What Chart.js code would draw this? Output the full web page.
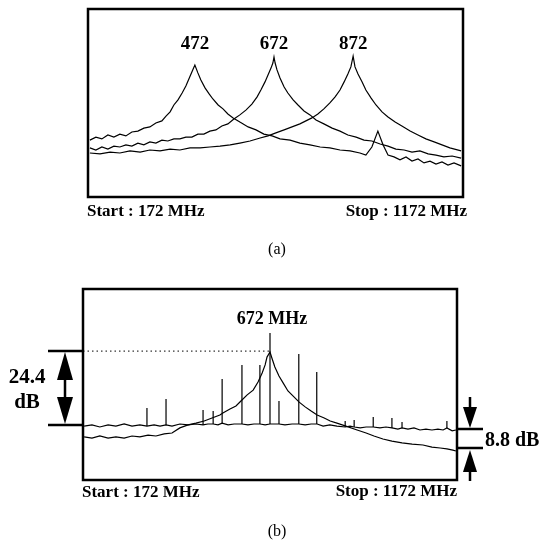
<!DOCTYPE html>
<html>
<head>
<meta charset="utf-8">
<script src="https://cdn.jsdelivr.net/npm/chart.js@4/dist/chart.umd.min.js"></script>
<style>
  html, body { margin: 0; padding: 0; background: #fff; }
  .panel { position: absolute; left: 0; width: 545px; }
  #panelA { top: 0; height: 270px; }
  #panelB { top: 270px; height: 274px; }
</style>
</head>
<body>
<div class="panel" id="panelA"><canvas id="graficaA" width="545" height="270"></canvas></div>
<div class="panel" id="panelB"><canvas id="graficaB" width="545" height="274"></canvas></div>
<script>
// ---- panel (a): three resonances, frequency in MHz, level in dB ----
const freq472 = [177, 193, 209, 225, 241, 257, 273, 289, 305, 321, 337, 353, 369, 380, 391, 401, 412, 423, 433, 441, 449, 457,
  465, 473, 484, 495, 505, 519, 532, 545, 559, 577, 599, 620, 641, 663, 684, 711, 737, 764, 791, 817, 844, 871, 897, 913,
  929, 945, 959, 972, 988, 1004, 1020, 1036, 1052, 1068, 1084, 1100, 1116, 1132, 1148, 1167];
const level472 = [-43.7, -42.7, -43.3, -42.0, -42.7, -41.7, -42.3, -41.0, -40.7, -39.7, -39.3, -38.0, -37.3, -35.7, -34.3, -32.0, -30.3, -28.0, -25.7, -23.3, -21.0, -18.7,
  -21.3, -23.7, -26.3, -28.3, -30.0, -32.0, -33.3, -35.0, -36.3, -37.7, -39.3, -40.3, -41.7, -42.3, -43.3, -43.7, -44.7, -45.3, -46.0, -46.3, -47.0, -47.3, -48.0, -48.7,
  -46.0, -40.7, -45.3, -48.7, -49.3, -50.3, -49.3, -50.7, -50.0, -51.3, -50.7, -51.7, -51.0, -52.0, -51.3, -52.3];

const freq672 = [177, 193, 209, 225, 241, 257, 273, 289, 305, 321, 337, 353, 369, 385, 401, 417, 433, 449, 465, 481, 497, 513,
  529, 545, 561, 577, 593, 609, 623, 633, 644, 652, 660, 665, 668, 671, 676, 684, 695, 705, 719, 732, 748, 764, 780, 801,
  823, 844, 865, 887, 908, 929, 951, 972, 993, 1015, 1036, 1057, 1079, 1100, 1121, 1143, 1167];
const level672 = [-46.3, -47.0, -46.0, -46.7, -45.7, -46.0, -45.3, -45.7, -44.7, -45.3, -44.3, -44.7, -43.7, -44.0, -43.3, -43.3, -42.7, -42.7, -41.7, -41.7, -40.7, -40.3,
  -39.0, -38.3, -36.7, -35.3, -33.7, -31.7, -29.3, -27.0, -24.3, -22.0, -19.7, -18.0, -16.0, -18.0, -20.3, -23.0, -26.0, -28.0, -30.3, -32.0, -34.0, -35.3, -37.0, -38.3,
  -39.7, -40.7, -42.0, -42.7, -43.7, -44.0, -45.0, -45.7, -46.7, -47.0, -47.7, -47.3, -48.3, -48.7, -49.3, -49.0, -49.7];

const freq872 = [177, 204, 231, 257, 284, 311, 337, 364, 391, 417, 444, 471, 497, 524, 551, 577, 604, 631, 652, 673, 695, 716,
  737, 753, 769, 785, 801, 817, 831, 844, 855, 865, 873, 879, 884, 892, 903, 913, 927, 940, 956, 972, 991, 1009, 1031, 1052,
  1073, 1095, 1116, 1137, 1167];
const level872 = [-48.0, -48.3, -47.7, -48.0, -47.3, -47.7, -47.0, -47.3, -46.7, -47.0, -46.3, -46.3, -46.0, -45.7, -45.3, -44.7, -44.0, -43.0, -42.3, -41.3, -40.3, -39.3,
  -38.3, -37.3, -36.3, -35.0, -33.3, -31.3, -29.3, -27.0, -24.3, -21.7, -19.3, -15.7, -19.3, -21.7, -24.3, -27.0, -29.7, -32.0, -34.3, -36.0, -37.7, -39.0, -40.7, -42.0,
  -43.3, -44.3, -45.3, -46.3, -47.3];

const peakLabels = ['472', '672', '872'];
const peakFreqs = [457, 668, 879];
const peakLabelLevel = -11.7;

// ---- panel (b): floor trace with spurs, and the resonance at 672 MHz ----
const floorFreq = [175, 196, 217, 239, 260, 282, 303, 324, 343, 362, 378, 394, 410, 431, 453, 474, 493, 506, 520, 533, 544, 560,
  576, 597, 613, 629, 645, 659, 672, 685, 696, 712, 731, 749, 766, 782, 798, 814, 832, 851, 873, 886, 897, 913, 929, 948,
  966, 982, 998, 1014, 1025, 1041, 1057, 1073, 1089, 1105, 1121, 1135, 1145, 1159, 1169];
const floorLevel = [-45.7, -45.3, -46.0, -45.3, -45.7, -45.0, -45.7, -45.3, -45.7, -45.3, -45.7, -45.3, -45.7, -45.0, -45.3, -45.0, -45.3, -45.0, -45.0, -45.3, -44.7, -45.3,
  -45.0, -45.0, -45.3, -45.0, -45.0, -45.3, -45.0, -45.0, -45.0, -45.3, -45.0, -45.0, -45.3, -45.0, -45.0, -45.7, -45.3, -45.7, -46.0, -45.7, -46.0, -46.3, -46.0, -46.0,
  -46.3, -46.0, -46.3, -46.7, -46.3, -46.7, -46.3, -47.0, -46.7, -47.0, -46.7, -47.0, -46.3, -47.3, -47.0];

const spurFreq = [343, 394, 493, 520, 544, 597, 645, 672, 696, 749, 797, 873, 897, 948, 998, 1025, 1145];
const spurTop = [-39.7, -36.7, -40.3, -40.7, -30.0, -25.3, -25.3, -14.7, -37.3, -21.7, -27.7, -44.0, -43.7, -42.7, -43.0, -44.3, -44.0];
const spurBase = [-45.7, -45.3, -45.3, -45.0, -44.7, -45.0, -45.0, -45.0, -45.0, -45.0, -45.0, -46.0, -46.0, -46.0, -46.3, -46.3, -46.3];

const resFreq = [175, 196, 217, 239, 260, 282, 303, 324, 346, 367, 389, 410, 431, 453, 474, 496, 517, 538, 546, 565, 581, 597,
  611, 627, 640, 651, 659, 664, 672, 677, 685, 696, 707, 720, 734, 750, 766, 782, 798, 817, 833, 851, 875, 905, 929, 950,
  974, 998, 1025, 1052, 1081, 1105, 1127, 1145, 1161, 1169];
const resLevel = [-49.3, -49.7, -49.0, -49.7, -49.3, -49.7, -49.0, -49.3, -48.7, -49.0, -48.3, -48.0, -46.3, -45.3, -44.7, -44.0, -43.0, -42.0, -41.3, -40.0, -39.0, -37.0,
  -35.3, -33.7, -31.0, -28.0, -25.3, -22.7, -21.0, -23.0, -26.0, -29.0, -31.3, -34.0, -35.7, -37.7, -39.3, -40.7, -42.0, -43.0, -44.0, -44.7, -45.7, -47.0, -48.0, -49.0,
  -50.0, -50.7, -51.3, -51.7, -52.0, -52.7, -53.0, -53.3, -53.7, -54.0];

const markerFreq = 672;
const markerLabel = '672 MHz';
const markerLevel = -20.7;   // top of the 24.4 dB bracket
const floorMark = -45.3;     // bottom of the 24.4 dB bracket
const gapTop = -46.7;        // 8.8 dB bracket
const gapBottom = -53.0;
const startText = 'Start : 172 MHz';
const stopText = 'Stop : 1172 MHz';

const pts = (xs, ys) => xs.map((x, i) => ({ x: x, y: ys[i] }));

const spurPts = [];
spurFreq.forEach((f, i) => {
  spurPts.push({ x: f, y: spurBase[i] }, { x: f, y: spurTop[i] }, { x: f, y: null });
});

const trazo = (data) => ({
  data: data,
  borderColor: '#000',
  borderWidth: 1.2,
  pointRadius: 0,
  fill: false,
  tension: 0,
  spanGaps: false
});

const serif = '"Liberation Serif", "Times New Roman", serif';

const flecha = (ctx, x, tipY, dir, h, w) => {  // dir 1 = pointing down, -1 = up
  ctx.beginPath();
  ctx.moveTo(x, tipY);
  ctx.lineTo(x - w / 2, tipY - dir * h);
  ctx.lineTo(x + w / 2, tipY - dir * h);
  ctx.closePath();
  ctx.fill();
};

const marcoA = {
  id: 'marcoA',
  afterDraw(chart) {
    const ctx = chart.ctx, a = chart.chartArea, xs = chart.scales.x, ys = chart.scales.y;
    ctx.save();
    ctx.strokeStyle = '#000';
    ctx.lineWidth = 2.5;
    ctx.strokeRect(a.left, a.top, a.right - a.left, a.bottom - a.top);
    ctx.fillStyle = '#000';
    ctx.textBaseline = 'middle';
    ctx.textAlign = 'center';
    ctx.font = 'bold 19px ' + serif;
    peakLabels.forEach((t, i) => {
      ctx.fillText(t, xs.getPixelForValue(peakFreqs[i]), ys.getPixelForValue(peakLabelLevel));
    });
    ctx.font = 'bold 17px ' + serif;
    ctx.textAlign = 'left';
    ctx.fillText(startText, a.left - 1, a.bottom + 15);
    ctx.textAlign = 'right';
    ctx.fillText(stopText, a.right + 4, a.bottom + 15);
    ctx.font = '16px ' + serif;
    ctx.textAlign = 'center';
    ctx.fillText('(a)', (a.left + a.right) / 2 + 1.5, a.bottom + 53);
    ctx.restore();
  }
};

const marcoB = {
  id: 'marcoB',
  afterDraw(chart) {
    const ctx = chart.ctx, a = chart.chartArea, xs = chart.scales.x, ys = chart.scales.y;
    const yTop = ys.getPixelForValue(markerLevel), yFloor = ys.getPixelForValue(floorMark);
    const yG1 = ys.getPixelForValue(gapTop), yG2 = ys.getPixelForValue(gapBottom);
    const xPeak = xs.getPixelForValue(markerFreq);
    ctx.save();
    // dotted reference line
    ctx.strokeStyle = '#000';
    ctx.lineWidth = 1;
    ctx.setLineDash([1.5, 3]);
    ctx.beginPath();
    ctx.moveTo(a.left, yTop);
    ctx.lineTo(xPeak, yTop);
    ctx.stroke();
    ctx.setLineDash([]);
    // frame
    ctx.lineWidth = 2.5;
    ctx.strokeRect(a.left, a.top, a.right - a.left, a.bottom - a.top);
    // 24.4 dB bracket
    ctx.beginPath();
    ctx.moveTo(a.left - 35, yTop); ctx.lineTo(a.left, yTop);
    ctx.moveTo(a.left - 35, yFloor); ctx.lineTo(a.left, yFloor);
    const xa = a.left - 18;
    ctx.moveTo(xa, yTop + 10); ctx.lineTo(xa, yFloor - 10);
    ctx.stroke();
    ctx.fillStyle = '#000';
    flecha(ctx, xa, yTop + 1, -1, 28, 16);
    flecha(ctx, xa, yFloor - 1, 1, 27, 16);
    // 8.8 dB bracket
    ctx.beginPath();
    ctx.moveTo(a.right, yG1); ctx.lineTo(a.right + 26, yG1);
    ctx.moveTo(a.right, yG2); ctx.lineTo(a.right + 26, yG2);
    const xb = a.right + 13;
    ctx.moveTo(xb, yG1 - 32); ctx.lineTo(xb, yG1 - 10);
    ctx.moveTo(xb, yG2 + 10); ctx.lineTo(xb, yG2 + 33);
    ctx.stroke();
    flecha(ctx, xb, yG1 - 1, 1, 21, 14);
    flecha(ctx, xb, yG2 + 2, -1, 22, 14);
    // texts
    ctx.textBaseline = 'middle';
    ctx.textAlign = 'center';
    ctx.font = 'bold 18px ' + serif;
    ctx.fillText(markerLabel, xPeak + 2, a.top + 30);
    ctx.font = 'bold 21px ' + serif;
    ctx.fillText('24.4', a.left - 56, yTop + 26);
    ctx.fillText('dB', a.left - 56, yTop + 51);
    ctx.textAlign = 'left';
    ctx.font = 'bold 20px ' + serif;
    ctx.fillText('8.8 dB', a.right + 28, (yG1 + yG2) / 2 + 2);
    ctx.font = 'bold 17px ' + serif;
    ctx.fillText(startText, a.left - 1, a.bottom + 13);
    ctx.textAlign = 'right';
    ctx.fillText(stopText, a.right, a.bottom + 12);
    ctx.font = '16px ' + serif;
    ctx.textAlign = 'center';
    ctx.fillText('(b)', (a.left + a.right) / 2 + 7, a.bottom + 52);
    ctx.restore();
  }
};

const opciones = (pad, yMin) => ({
  responsive: false,
  animation: false,
  layout: { padding: pad },
  plugins: { legend: { display: false }, tooltip: { enabled: false } },
  scales: {
    x: { type: 'linear', min: 172, max: 1172, display: false },
    y: { type: 'linear', min: yMin, max: 0, display: false }
  }
});

const chartA = new Chart(document.querySelector('#graficaA'), {
  type: 'line',
  data: {
    datasets: [
      trazo(pts(freq472, level472)),
      trazo(pts(freq672, level672)),
      trazo(pts(freq872, level872))
    ]
  },
  options: opciones({ left: 88, top: 9, right: 82, bottom: 73 }, -62.67),
  plugins: [marcoA]
});

const chartB = new Chart(document.querySelector('#graficaB'), {
  type: 'line',
  data: {
    datasets: [
      trazo(pts(floorFreq, floorLevel)),
      trazo(spurPts),
      trazo(pts(resFreq, resLevel))
    ]
  },
  options: opciones({ left: 83, top: 19, right: 88, bottom: 64 }, -63.67),
  plugins: [marcoB]
});
</script>
</body>
</html>
